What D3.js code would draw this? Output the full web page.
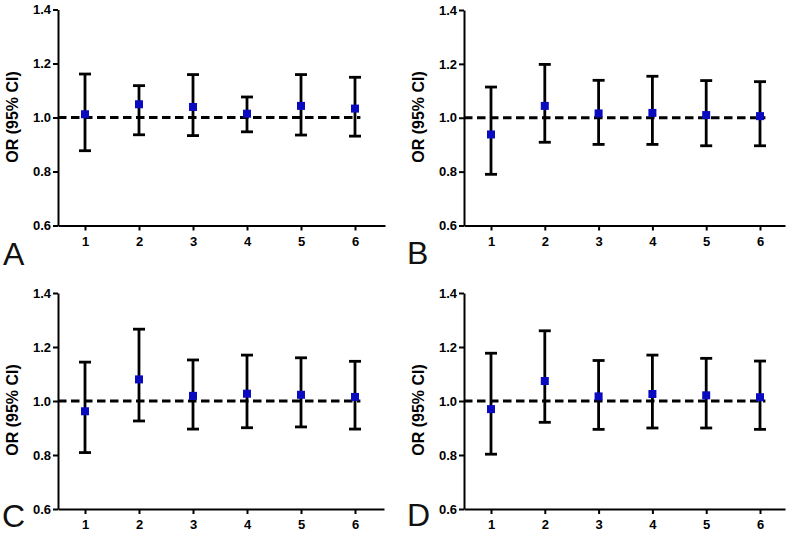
<!DOCTYPE html>
<html>
<head>
<meta charset="utf-8">
<script src="https://cdn.jsdelivr.net/npm/d3@7"></script>
<style>
  html, body { margin: 0; padding: 0; background: #fff; }
  svg { display: block; }
  .tick text { font-family: "Liberation Sans", Arial, sans-serif; font-weight: bold; font-size: 13px; fill: #000; }
</style>
</head>
<body>
<svg id="chart" width="791" height="534"></svg>
<script>
// ---- data ----
const categories = [1, 2, 3, 4, 5, 6];
const yTicks = [0.6, 0.8, 1.0, 1.2, 1.4];
const panelLabels = ["A", "B", "C", "D"];
const yAxisTitle = "OR (95% CI)";
const refValue = 1.0;

const orA   = [1.012, 1.049, 1.039, 1.014, 1.043, 1.033];
const lowA  = [0.877, 0.936, 0.933, 0.947, 0.935, 0.931];
const highA = [1.161, 1.118, 1.159, 1.076, 1.159, 1.149];

const orB   = [0.938, 1.044, 1.016, 1.018, 1.010, 1.006];
const lowB  = [0.790, 0.909, 0.901, 0.901, 0.896, 0.896];
const highB = [1.114, 1.198, 1.139, 1.154, 1.138, 1.134];

const orC   = [0.962, 1.080, 1.019, 1.027, 1.023, 1.015];
const lowC  = [0.809, 0.926, 0.896, 0.901, 0.904, 0.896];
const highC = [1.144, 1.266, 1.152, 1.170, 1.160, 1.147];

const orD   = [0.970, 1.074, 1.017, 1.026, 1.021, 1.014];
const lowD  = [0.803, 0.921, 0.895, 0.900, 0.900, 0.895];
const highD = [1.177, 1.260, 1.150, 1.170, 1.158, 1.148];

// ---- layout ----
const layouts = [
  { left: 58,  right: 385, x1: 85,  x6: 355, top: 9.5, bottom: 225.5, ylx: 12,    yly: 117, lx: 3,   ly: 265 },
  { left: 464, right: 785, x1: 491, x6: 760, top: 10,  bottom: 225.5, ylx: 418.5, yly: 117, lx: 407, ly: 264 },
  { left: 58,  right: 384, x1: 85,  x6: 355, top: 293, bottom: 509,   ylx: 12,    yly: 410, lx: 2,   ly: 527 },
  { left: 464, right: 785, x1: 491, x6: 760, top: 293, bottom: 509,   ylx: 418.5, yly: 410, lx: 407, ly: 526 }
];
const seriesOR = [orA, orB, orC, orD];
const seriesLow = [lowA, lowB, lowC, lowD];
const seriesHigh = [highA, highB, highC, highD];

const svg = d3.select("#chart");
const fmt = d3.format(".1f");

layouts.forEach((L, p) => {
  const g = svg.append("g");
  const unit = (L.x6 - L.x1) / (categories.length - 1);
  const x = d3.scaleLinear()
    .domain([1 - (L.x1 - L.left) / unit, 6 + (L.right - L.x6) / unit])
    .range([L.left, L.right]);
  const y = d3.scaleLinear().domain([0.6, 1.4]).range([L.bottom, L.top]);

  const xAxis = d3.axisBottom(x).tickValues(categories).tickFormat(d3.format("d"))
    .tickSizeInner(5).tickSizeOuter(0).tickPadding(6);
  const gx = g.append("g").attr("transform", `translate(0,${L.bottom})`).call(xAxis);
  gx.select(".domain").attr("stroke", "#000").attr("stroke-width", 2);
  gx.selectAll(".tick line").attr("stroke", "#000").attr("stroke-width", 2);

  const yAxis = d3.axisLeft(y).tickValues(yTicks).tickFormat(fmt)
    .tickSizeInner(5).tickSizeOuter(0).tickPadding(2);
  const gy = g.append("g").attr("transform", `translate(${L.left},0)`).call(yAxis);
  gy.select(".domain").attr("stroke", "#000").attr("stroke-width", 2);
  gy.selectAll(".tick line").attr("stroke", "#000").attr("stroke-width", 2);

  // reference line
  g.append("line")
    .attr("x1", x(x.domain()[0])).attr("x2", x(6.1))
    .attr("y1", y(refValue)).attr("y2", y(refValue))
    .attr("stroke", "#000").attr("stroke-width", 3.2)
    .attr("stroke-dasharray", "8.5,4.5");

  const data = categories.map((c, i) => ({ c, or: seriesOR[p][i], lo: seriesLow[p][i], hi: seriesHigh[p][i] }));
  const capW = 6;
  const eb = g.selectAll(".eb").data(data).enter().append("g");
  eb.append("line")
    .attr("x1", d => x(d.c)).attr("x2", d => x(d.c))
    .attr("y1", d => y(d.lo)).attr("y2", d => y(d.hi))
    .attr("stroke", "#000").attr("stroke-width", 2.8);
  eb.append("line")
    .attr("x1", d => x(d.c) - capW).attr("x2", d => x(d.c) + capW)
    .attr("y1", d => y(d.hi)).attr("y2", d => y(d.hi))
    .attr("stroke", "#000").attr("stroke-width", 2.8);
  eb.append("line")
    .attr("x1", d => x(d.c) - capW).attr("x2", d => x(d.c) + capW)
    .attr("y1", d => y(d.lo)).attr("y2", d => y(d.lo))
    .attr("stroke", "#000").attr("stroke-width", 2.8);
  const ms = 8;
  eb.append("rect")
    .attr("x", d => x(d.c) - ms / 2).attr("y", d => y(d.or) - ms / 2)
    .attr("width", ms).attr("height", ms)
    .attr("fill", "#0a0ac0");

  // y axis title
  g.append("text")
    .attr("transform", `translate(${L.ylx},${L.yly}) rotate(-90)`)
    .attr("text-anchor", "middle").attr("dominant-baseline", "central")
    .style("font-family", "'Liberation Sans', Arial, sans-serif")
    .style("font-weight", "bold").style("font-size", "16px")
    .text(yAxisTitle);

  // panel letter
  g.append("text")
    .attr("x", L.lx).attr("y", L.ly)
    .style("font-family", "'Liberation Sans', Arial, sans-serif")
    .style("font-size", "32px").style("fill", "#111")
    .text(panelLabels[p]);
});
</script>
</body>
</html>
